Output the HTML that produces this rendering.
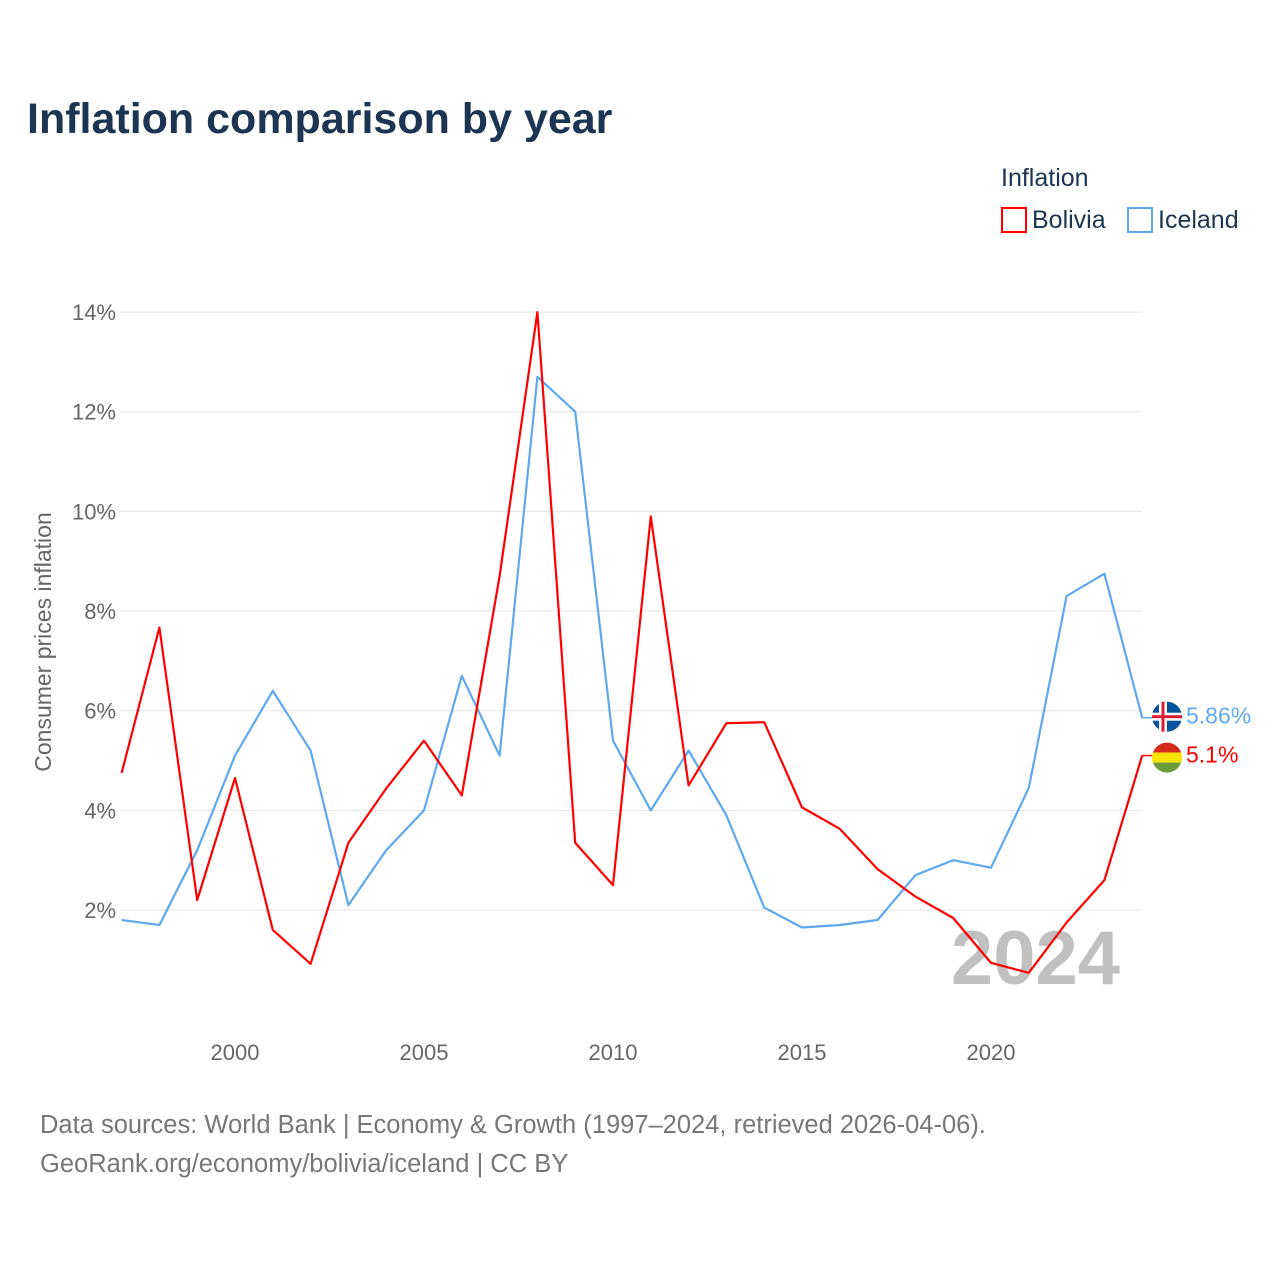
<!DOCTYPE html>
<html><head><meta charset="utf-8"><style>
body{margin:0;background:#fff;font-family:"Liberation Sans",sans-serif;}
</style></head><body>
<svg width="1280" height="1280" xmlns="http://www.w3.org/2000/svg" id="chart">
<text x="27" y="133" font-size="43" font-weight="bold" fill="#1b3553">Inflation comparison by year</text>
<text x="1001" y="186" font-size="25" fill="#1b3553">Inflation</text>
<g><rect x="1002" y="208" width="24" height="24" fill="none" stroke="#ff0000" stroke-width="2"/><text x="1032" y="228" font-size="25" fill="#1b3553">Bolivia</text></g>
<g><rect x="1128" y="208" width="24" height="24" fill="none" stroke="#5ea8ef" stroke-width="2"/><text x="1158" y="228" font-size="25" fill="#1b3553">Iceland</text></g>
<text transform="translate(51,642) rotate(-90)" text-anchor="middle" font-size="23" fill="#666">Consumer prices inflation</text>
<g id="grid"></g><g id="ticks"></g>
<text x="1120" y="984" text-anchor="end" font-size="76" font-weight="bold" fill="#c0c0c0">2024</text>
<g id="series"></g>
<text x="40" y="1133" font-size="25.5" fill="#777">Data sources: World Bank | Economy &amp; Growth (1997–2024, retrieved 2026-04-06).</text>
<text x="40" y="1172" font-size="25.5" fill="#777">GeoRank.org/economy/bolivia/iceland | CC BY</text>
</svg>
<script>
const years=[1997,1998,1999,2000,2001,2002,2003,2004,2005,2006,2007,2008,2009,2010,2011,2012,2013,2014,2015,2016,2017,2018,2019,2020,2021,2022,2023,2024];
const bolivia=[4.75,7.67,2.2,4.65,1.6,0.92,3.35,4.44,5.4,4.3,8.7,14.0,3.35,2.5,9.9,4.5,5.75,5.77,4.06,3.63,2.82,2.27,1.84,0.94,0.74,1.75,2.6,5.1];
const iceland=[1.8,1.7,3.2,5.1,6.4,5.2,2.1,3.2,4.0,6.7,5.1,12.7,12.0,5.4,4.0,5.2,3.9,2.05,1.65,1.7,1.8,2.7,3.0,2.85,4.45,8.3,8.75,5.86];
const yTicks=[2,4,6,8,10,12,14];
const xTicks=[2000,2005,2010,2015,2020];
const NS="http://www.w3.org/2000/svg";
const xs=y=>235+(y-2000)*37.8;
const ys=v=>1009.7-v*49.83;
const grid=document.getElementById('grid'),ticks=document.getElementById('ticks'),ser=document.getElementById('series');
function mk(tag,at,parent){const e=document.createElementNS(NS,tag);for(const k in at)e.setAttribute(k,at[k]);parent.appendChild(e);return e;}
yTicks.forEach(v=>{
 const l=mk('line',{x1:120,x2:1142,y1:ys(v),y2:ys(v),stroke:'#e6e6e6','stroke-width':1},grid);
 
 
 const t=mk('text',{x:116,y:ys(v)+8,'text-anchor':'end','font-size':22,fill:'#666'},ticks);t.textContent=v+'%';
 
 
});
xTicks.forEach(v=>{
 const t=mk('text',{x:xs(v),y:1060,'text-anchor':'middle','font-size':22,fill:'#666'},ticks);t.textContent=v;
 
 
});
function line(data,color,name){
 const p=mk('polyline',{points:data.map((v,i)=>xs(years[i])+','+ys(v)).join(' '),fill:'none',stroke:color,'stroke-width':2.2,'stroke-linejoin':'round'},ser);
 
 
}
line(iceland,'#5ea8ef','iceland-line');
line(bolivia,'#ff0000','bolivia-line');
const last=years.length-1,xe=xs(years[last]);
const yi=ys(iceland[last]);
mk('line',{x1:xe,x2:1152,y1:yi,y2:yi,stroke:'#5ea8ef','stroke-width':1.5},ser);
const fi=mk('g',{},ser);


mk('circle',{cx:1167,cy:yi-1,r:15,fill:'#02529c'},fi);
mk('rect',{x:1152,y:yi-5,width:30,height:8,fill:'#fff'},fi);
mk('rect',{x:1159,y:yi-16,width:8,height:30,fill:'#fff'},fi);
mk('rect',{x:1152,y:yi-2.5,width:30,height:3,fill:'#dc1e35'},fi);
mk('rect',{x:1161.5,y:yi-16,width:3,height:30,fill:'#dc1e35'},fi);
const ti=mk('text',{x:1186,y:yi+6,'font-size':23,fill:'#5ea8ef'},ser);ti.textContent=iceland[last]+'%';


const yb=ys(bolivia[last]);
mk('line',{x1:xe,x2:1152,y1:yb,y2:yb,stroke:'#ff0000','stroke-width':1.5},ser);
const fb=mk('g',{},ser);


mk('defs',{},fb).innerHTML='<clipPath id="bc"><circle cx="1167" cy="'+(yb+2)+'" r="15"/></clipPath>';
const g2=mk('g',{'clip-path':'url(#bc)'},fb);
mk('rect',{x:1152,y:yb-13,width:30,height:10,fill:'#d52b1e'},g2);
mk('rect',{x:1152,y:yb-3,width:30,height:10,fill:'#f9e300'},g2);
mk('rect',{x:1152,y:yb+7,width:30,height:10,fill:'#6a9a3a'},g2);
const tb=mk('text',{x:1186,y:yb+7,'font-size':23,fill:'#ff0000'},ser);tb.textContent=bolivia[last]+'%';


</script>
</body></html>
